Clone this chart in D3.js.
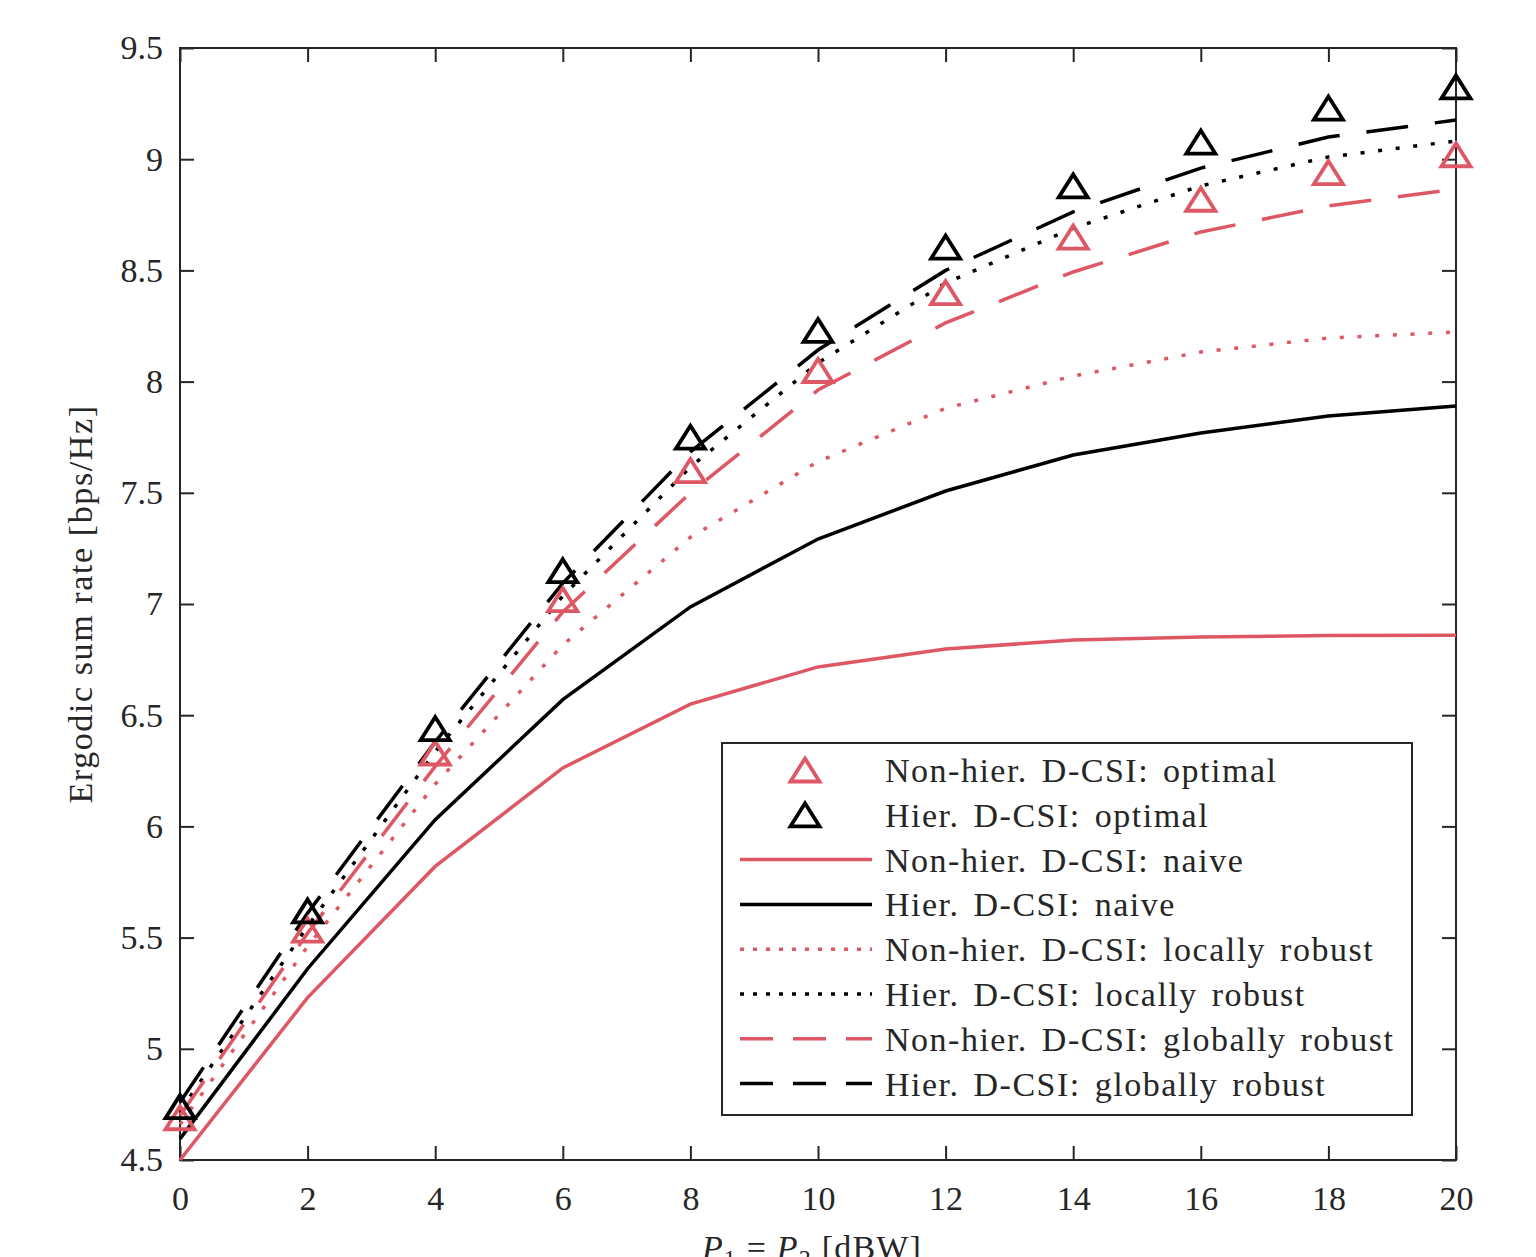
<!DOCTYPE html>
<html lang="en">
<head>
<meta charset="utf-8">
<style>
  body { margin: 0; background: #fff; }
  text { font-family: "Liberation Serif", "DejaVu Serif", serif; fill: #262626; }
</style>
</head>
<body>
<script src="https://d3js.org/d3.v7.min.js"></script>
<script>
// transmit power P1 = P2 [dBW]
var powers = [0, 2, 4, 6, 8, 10, 12, 14, 16, 18, 20];

// ergodic sum rate [bps/Hz]
var nonHierOptimal = [4.69, 5.534, 6.33, 7.02, 7.60, 8.05, 8.40, 8.65, 8.82, 8.94, 9.02];
var hierOptimal    = [4.74, 5.62, 6.44, 7.15, 7.75, 8.23, 8.605, 8.88, 9.077, 9.23, 9.325];
var nonHierNaive   = [4.5, 5.23, 5.82, 6.263, 6.55, 6.717, 6.798, 6.838, 6.852, 6.858, 6.86];
var hierNaive      = [4.595, 5.36, 6.03, 6.57, 6.987, 7.292, 7.508, 7.67, 7.769, 7.845, 7.89];
var nonHierLocal   = [4.66, 5.46, 6.19, 6.816, 7.30, 7.64, 7.88, 8.025, 8.133, 8.196, 8.223];
var hierLocal      = [4.72, 5.55, 6.335, 7.036, 7.616, 8.084, 8.443, 8.69, 8.88, 9.01, 9.082];
var nonHierGlobal  = [4.70, 5.52, 6.27, 6.964, 7.50, 7.962, 8.264, 8.493, 8.673, 8.79, 8.866];
var hierGlobal     = [4.76, 5.61, 6.38, 7.094, 7.684, 8.142, 8.50, 8.763, 8.96, 9.10, 9.176];

var xTicks = [0, 2, 4, 6, 8, 10, 12, 14, 16, 18, 20];
var yTicks = [4.5, 5, 5.5, 6, 6.5, 7, 7.5, 8, 8.5, 9, 9.5];

var legendLabels = [
  "Non-hier. D-CSI: optimal",
  "Hier. D-CSI: optimal",
  "Non-hier. D-CSI: naive",
  "Hier. D-CSI: naive",
  "Non-hier. D-CSI: locally robust",
  "Hier. D-CSI: locally robust",
  "Non-hier. D-CSI: globally robust",
  "Hier. D-CSI: globally robust"
];

var red = "#de5764", black = "#000000", axisCol = "#262626";

var W = 1536, H = 1257,
    margin = {top: 48, left: 180, right: 80, bottom: 97},
    w = W - margin.left - margin.right,
    h = H - margin.top - margin.bottom;

var svg = d3.select("body").append("svg")
    .attr("width", W)
    .attr("height", H);

var g = svg.append("g")
    .attr("transform", "translate(" + margin.left + "," + margin.top + ")");

var x = d3.scaleLinear().domain([0, 20]).range([0, w]);
var y = d3.scaleLinear().domain([4.5, 9.5]).range([h, 0]);

// axes, ticks pointing inward on all four sides
var tickLen = 14;
function styleAxis(sel) {
  sel.select(".domain").remove();
  sel.selectAll(".tick line").attr("stroke", axisCol).attr("stroke-width", 2);
  sel.selectAll(".tick text").style("font-size", "34px").attr("fill", axisCol);
}

g.append("g").attr("transform", "translate(0," + h + ")")
  .call(d3.axisBottom(x).tickValues(xTicks).tickSize(-tickLen).tickPadding(26).tickFormat(d3.format("d")))
  .call(styleAxis);
g.append("g")
  .call(d3.axisTop(x).tickValues(xTicks).tickSize(-tickLen).tickFormat(""))
  .call(styleAxis);
g.append("g")
  .call(d3.axisLeft(y).tickValues(yTicks).tickSize(-tickLen).tickPadding(17).tickFormat(function(d){ return String(d); }))
  .call(styleAxis);
g.append("g").attr("transform", "translate(" + w + ",0)")
  .call(d3.axisRight(y).tickValues(yTicks).tickSize(-tickLen).tickFormat(""))
  .call(styleAxis);

g.append("rect")
  .attr("width", w).attr("height", h)
  .attr("fill", "none").attr("stroke", axisCol).attr("stroke-width", 2);

// axis labels
g.append("text")
  .attr("transform", "translate(-88," + (h / 2) + ") rotate(-90)")
  .attr("text-anchor", "middle")
  .style("font-size", "34px")
  .style("letter-spacing", "1.6px")
  .text("Ergodic sum rate [bps/Hz]");

// x label sits at the very bottom edge, partly cut off as in the source image
var xl = g.append("text")
  .attr("x", x(10) - 6).attr("y", h + 99)
  .attr("text-anchor", "middle")
  .style("font-size", "34px")
  .style("letter-spacing", "1.2px");
xl.append("tspan").style("font-style", "italic").text("P");
xl.append("tspan").attr("dy", 7).style("font-size", "24px").text("1");
xl.append("tspan").attr("dy", -7).text(" = ");
xl.append("tspan").style("font-style", "italic").text("P");
xl.append("tspan").attr("dy", 7).style("font-size", "24px").text("2");
xl.append("tspan").attr("dy", -7).text(" [dBW]");

// curves
var series = [
  {vals: nonHierNaive,  color: red,   dash: null},
  {vals: hierNaive,     color: black, dash: null},
  {vals: nonHierLocal,  color: red,   dash: "4,13.7"},
  {vals: hierLocal,     color: black, dash: "4,13.7"},
  {vals: nonHierGlobal, color: red,   dash: "42,27"},
  {vals: hierGlobal,    color: black, dash: "42,27"}
];

var line = d3.line()
  .x(function(d, i){ return x(powers[i]); })
  .y(function(d){ return y(d); });

g.selectAll("path.curve")
  .data(series)
  .enter().append("path")
  .attr("class", "curve")
  .attr("d", function(d){ return line(d.vals); })
  .attr("fill", "none")
  .attr("stroke", function(d){ return d.color; })
  .attr("stroke-width", 3.5)
  .attr("stroke-dasharray", function(d){ return d.dash; });

// triangle markers
function tri(cx, cy) {
  var hw = 14.5, hh = 11.5;
  return "M" + cx + "," + (cy - hh) + "L" + (cx + hw) + "," + (cy + hh) + "L" + (cx - hw) + "," + (cy + hh) + "Z";
}
var markers = [
  {vals: nonHierOptimal, color: red},
  {vals: hierOptimal,    color: black}
];
markers.forEach(function(m){
  g.selectAll(null)
    .data(m.vals)
    .enter().append("path")
    .attr("d", function(d, i){ return tri(x(powers[i]), y(d)); })
    .attr("fill", "none")
    .attr("stroke", m.color)
    .attr("stroke-width", 3.8)
    .attr("stroke-linejoin", "miter");
});

// legend
var lg = svg.append("g").attr("transform", "translate(722,743)");
lg.append("rect")
  .attr("width", 690).attr("height", 372)
  .attr("fill", "#fff").attr("stroke", axisCol).attr("stroke-width", 2);

var legendItems = [
  {type: "marker", color: red},
  {type: "marker", color: black},
  {type: "line", color: red,   dash: null},
  {type: "line", color: black, dash: null},
  {type: "line", color: red,   dash: "4,9"},
  {type: "line", color: black, dash: "4,9"},
  {type: "line", color: red,   dash: "33,20"},
  {type: "line", color: black, dash: "33,20"}
];

var row = lg.selectAll("g.row")
  .data(legendItems)
  .enter().append("g")
  .attr("class", "row")
  .attr("transform", function(d, i){ return "translate(0," + (27 + i * 44.8) + ")"; });

row.filter(function(d){ return d.type === "line"; })
  .append("line")
  .attr("x1", 18).attr("x2", 150)
  .attr("stroke", function(d){ return d.color; })
  .attr("stroke-width", 3.5)
  .attr("stroke-dasharray", function(d){ return d.dash; });

row.filter(function(d){ return d.type === "marker"; })
  .append("path")
  .attr("d", tri(83, 0))
  .attr("fill", "none")
  .attr("stroke", function(d){ return d.color; })
  .attr("stroke-width", 3.8);

row.append("text")
  .attr("x", 163).attr("y", 12)
  .style("font-size", "34px")
  .style("letter-spacing", "1.5px")
  .style("word-spacing", "4px")
  .attr("fill", "#000")
  .text(function(d, i){ return legendLabels[i]; });
</script>
</body>
</html>
